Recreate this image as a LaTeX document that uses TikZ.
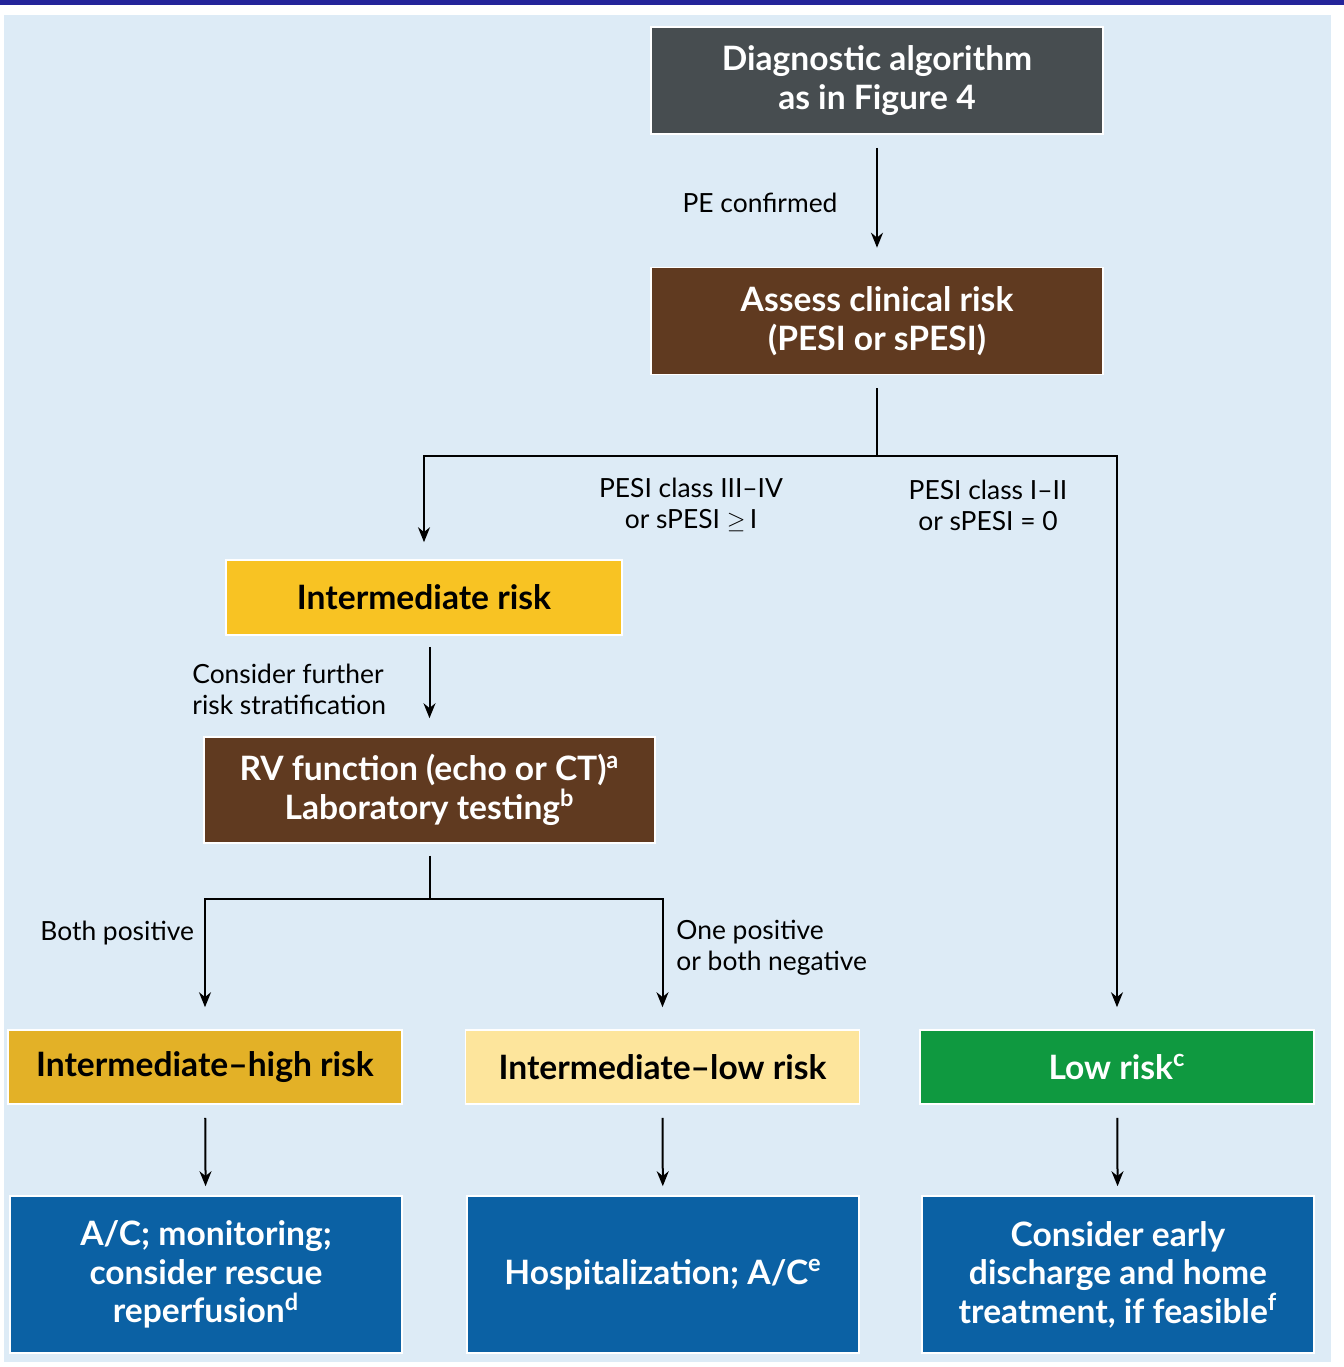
\documentclass[tikz,border=0pt]{standalone}
\usepackage{fontspec}
\setmainfont{Lato}
\usetikzlibrary{arrows.meta}

\begin{document}
\begin{tikzpicture}[x=0.5pt,y=-0.5pt,
 box/.style={draw=white, line width=0.8pt, inner sep=0pt, align=center,
  text=white, font=\bfseries\fontsize{16.8}{19.2}\selectfont},
 wide/.style={minimum width=226pt, minimum height=53.5pt},
 small/.style={minimum width=197pt, minimum height=37pt},
 act/.style={minimum width=196pt, minimum height=78.5pt, fill=actblue},
 lbl/.style={font=\fontsize{13.2}{15.5}\selectfont, inner sep=0pt},
 arrow/.style={line width=1pt, -{Stealth[length=7.5pt,width=6pt]}}]

\definecolor{bgblue}{HTML}{DDEBF6}
\definecolor{navy}{HTML}{24249A}
\definecolor{diaggray}{HTML}{474D50}
\definecolor{riskbrown}{HTML}{603A20}
\definecolor{interyel}{HTML}{F8C323}
\definecolor{highgold}{HTML}{E3B127}
\definecolor{lowpale}{HTML}{FDE59C}
\definecolor{lowgreen}{HTML}{0F9940}
\definecolor{actblue}{HTML}{0B61A4}

\useasboundingbox (0,0) rectangle (1344,1367);
\fill[navy] (0,0) rectangle (1344,5);
\fill[bgblue] (4,15) rectangle (1331,1362);

% boxes
\node[box,wide,fill=diaggray] (diag) at (877,80.5) {Diagnostic algorithm\\as in Figure 4};
\node[box,wide,fill=riskbrown] (assess) at (877,321) {Assess clinical risk\\(PESI or sPESI)};
\node[box,fill=interyel,text=black,minimum width=198pt,minimum height=37.5pt] (inter) at (424,597.5) {Intermediate risk};
\node[box,fill=riskbrown,minimum width=225.5pt,minimum height=53pt] (rv) at (429.5,790)
 {RV function (echo or CT)\textsuperscript{a}\\Laboratory testing\textsuperscript{b}};
\node[box,small,fill=highgold,text=black] (ihigh) at (205,1067) {Intermediate–high risk};
\node[box,small,fill=lowpale,text=black] (ilow) at (662.5,1067) {Intermediate–low risk};
\node[box,small,fill=lowgreen] (low) at (1117,1067) {Low risk\textsuperscript{c}};
\node[box,act] (treat1) at (206,1274.5) {A/C; monitoring;\\consider rescue\\reperfusion\textsuperscript{d}};
\node[box,act] (treat2) at (663,1274.5) {Hospitalization; A/C\textsuperscript{e}};
\node[box,act] (treat3) at (1118,1274.5) {Consider early\\discharge and home\\treatment, if feasible\textsuperscript{f}};

% labels
\node[lbl] (pe) at (760,203) {PE confirmed};
\node[lbl,align=center] (highcl) at (691,505) {PESI class III–IV\\or sPESI $\geq$\,I};
\node[lbl,align=center] (lowcl) at (988,505) {PESI class I–II\\or sPESI = 0};
\node[lbl,align=left,anchor=west] (further) at (192,689) {Consider further\\risk stratification};
\node[lbl,anchor=west] (both) at (40,933) {Both positive};
\node[lbl,align=left,anchor=west] (onepos) at (676,948) {One positive\\or both negative};

% connectors
\coordinate (fork1) at (879,456);
\coordinate (fork2) at (428,899);
\draw[arrow,shorten <=6.5pt,shorten >=9.5pt] (diag) -- (assess);
\draw[arrow,shorten <=6.5pt,shorten >=8.5pt] (assess.south) -- (assess.south |- fork1) -| (inter.north);
\draw[arrow,shorten <=6.5pt,shorten >=11pt] (assess.south) -- (assess.south |- fork1) -| (low.north);
\draw[arrow,shorten <=5.5pt,shorten >=9pt] (rv.north |- inter.south) -- (rv.north);
\draw[arrow,shorten <=6pt,shorten >=11pt] (rv.south) -- (rv.south |- fork2) -| (ihigh.north);
\draw[arrow,shorten <=6pt,shorten >=11pt] (rv.south) -- (rv.south |- fork2) -| (ilow.north);
\draw[arrow,shorten <=6.5pt,shorten >=4.5pt] (ihigh) -- (treat1);
\draw[arrow,shorten <=6.5pt,shorten >=4.5pt] (ilow) -- (treat2);
\draw[arrow,shorten <=6.5pt,shorten >=4.5pt] (low) -- (treat3);
\end{tikzpicture}
\end{document}
